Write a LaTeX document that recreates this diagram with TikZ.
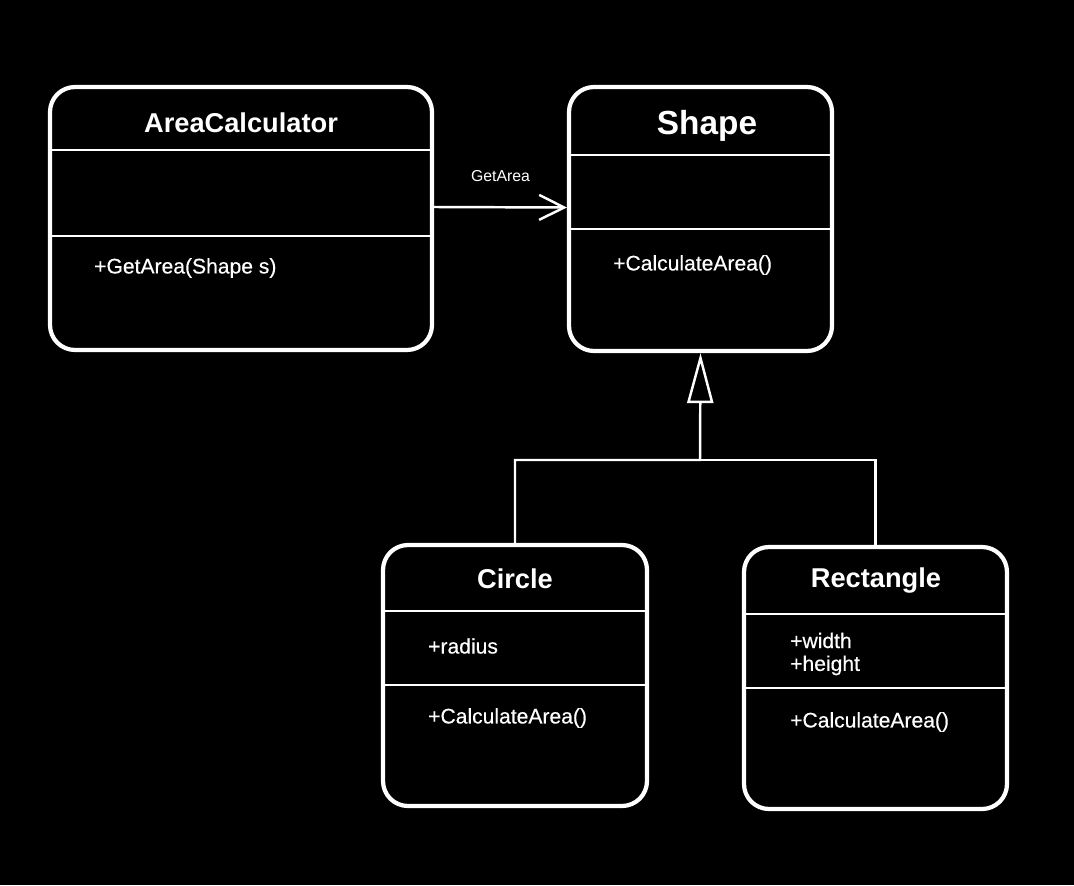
\documentclass[tikz,border=0pt]{standalone}
\usepackage{fontspec}
\setmainfont{Liberation Sans}
\newfontface\memberfont{Liberation Sans}[FakeBold=0.4]
\usetikzlibrary{arrows.meta,fit}
\tikzset{
  classbox/.style={draw=white, line width=2.4pt, rounded corners=0.5cm, inner sep=0pt},
  divider/.style={white, line width=1.2pt},
  classname/.style={text=white, font=\bfseries\fontsize{15.5}{18}\selectfont},
  member/.style={text=white, anchor=west, align=left, font=\memberfont\fontsize{12}{13}\selectfont},
  assoc/.style={white, line width=1.4pt, -{Straight Barb[length=0.5cm,width=0.5cm]}},
  inherit/.style={white, line width=1.4pt},
}
\begin{document}
\begin{tikzpicture}[x=0.02cm,y=-0.02cm]
\fill[black] (0,0) rectangle (1074,885);
\useasboundingbox (0,0) rectangle (1074,885);
% AreaCalculator
\node [classbox, fit={(50,87) (432,350)}] (calc) {};
\draw [divider] (50,150) -- (432,150);
\draw [divider] (50,236) -- (432,236);
\node [classname] (calcname) at (241,123) {AreaCalculator};
\node [member] (calcop) at (88,268) {+GetArea(Shape s)};
% Shape
\node [classbox, fit={(569,87) (832,351)}] (shape) {};
\draw [divider] (569,155) -- (832,155);
\draw [divider] (569,229) -- (832,229);
\node [classname, font=\bfseries\fontsize{19}{22}\selectfont] (shapename) at (707,126) {Shape};
\node [member] (shapeop) at (607,265) {+CalculateArea()};
% Circle
\node [classbox, fit={(383,545) (647,806)}] (circle) {};
\draw [divider] (383,611) -- (647,611);
\draw [divider] (383,685) -- (647,685);
\node [classname] (circlename) at (515,579) {Circle};
\node [member] (circleattr) at (422,646) {+radius};
\node [member] (circleop) at (422,718) {+CalculateArea()};
% Rectangle
\node [classbox, fit={(744,547) (1007,809)}] (rect) {};
\draw [divider] (744,614) -- (1007,614);
\draw [divider] (744,688) -- (1007,688);
\node [classname] (rectname) at (876,581) {Rectangle};
\node [member] (rectattr) at (784,654) {+width\\+height};
\node [member] (rectop) at (784,722) {+CalculateArea()};
% connectors
\draw [assoc] ([yshift=0.23cm]calc.east) -- ([yshift=0.23cm]shape.west)
  node [midway, above=0.38cm, text=white, font=\fontsize{9}{11}\selectfont] {GetArea};
\coordinate (join) at (700,460);
\draw [inherit] (rect.north) |- (join);
\draw [inherit, -{Triangle[open, length=1cm, width=0.52cm]}] (circle.north) |- (join) -- (shape.south);
\end{tikzpicture}
\end{document}
